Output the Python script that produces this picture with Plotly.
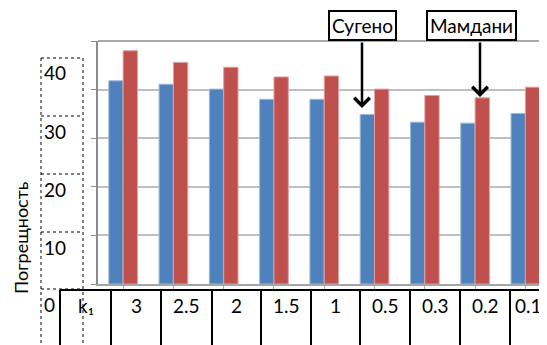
"""Погрешность: Сугено vs Мамдани по k1."""
import plotly.graph_objects as go

# data
k1_labels = ["3", "2.5", "2", "1.5", "1", "0.5", "0.3", "0.2", "0.1"]
sugeno = [41.8, 41.1, 40.1, 38.0, 38.0, 34.9, 33.3, 33.1, 35.1]
mamdani = [48.0, 45.6, 44.6, 42.6, 42.8, 40.1, 38.8, 38.3, 40.5]
y_table_labels = ["40", "30", "20", "10", "0"]

BLUE = "#4F81BD"
RED = "#C0504D"
FONT = "Lato, 'Open Sans', sans-serif"

# page body has an 8px margin, so the figure is drawn 8px smaller and shifted
OFF = 8
W, H = 547, 345
L, T, B = 98, 41, 61
PW, PH = W - L, H - T - B


def px(x):
    return (x - L) / PW


def py(y):
    return (H - B - y) / PH


xs = list(range(len(k1_labels)))

fig = go.Figure()
fig.add_trace(go.Bar(x=xs, y=sugeno, name="Сугено", marker_color=BLUE,
                     marker_line=dict(color="#9db8db", width=1)))
fig.add_trace(go.Bar(x=xs, y=mamdani, name="Мамдани", marker_color=RED,
                     marker_line=dict(color="#e0a0a0", width=1)))

shapes = []
# top border of the plot area (gridline at 50)
shapes.append(dict(type="line", xref="paper", yref="paper", x0=0, x1=1, y0=1, y1=1,
                   line=dict(color="#8c8c8c", width=1.5)))
# dotted column holding the y values
for x in (41, 83):
    shapes.append(dict(type="line", xref="paper", yref="paper", x0=px(x), x1=px(x),
                       y0=py(58), y1=py(H + 5), line=dict(color="black", width=1, dash="dot")))
row_tops = [58, 116, 174, 232, 289]
for y in row_tops:
    shapes.append(dict(type="line", xref="paper", yref="paper", x0=px(41), x1=px(83),
                       y0=py(y), y1=py(y), line=dict(color="black", width=1, dash="dot")))

# solid table under the axis
shapes.append(dict(type="line", xref="paper", yref="paper", x0=px(60), x1=px(W + 5),
                   y0=py(290), y1=py(290), line=dict(color="black", width=2)))
col_lines = [60, 111, 161, 212, 261, 311, 360, 410, 460, 510]
for x in col_lines:
    shapes.append(dict(type="line", xref="paper", yref="paper", x0=px(x), x1=px(x),
                       y0=py(290), y1=py(H + 5), line=dict(color="black", width=2)))

annotations = []
for lab, y in zip(y_table_labels, row_tops):
    annotations.append(dict(text=lab, xref="paper", yref="paper", x=px(42), y=py(y + 15),
                            xanchor="left", yanchor="middle", showarrow=False,
                            font=dict(size=19, color="black", family=FONT)))

cell_edges = col_lines + [W]
cells = ["k₁"] + k1_labels
for i, lab in enumerate(cells):
    cx = (cell_edges[i] + cell_edges[i + 1]) / 2
    annotations.append(dict(text=lab, xref="paper", yref="paper", x=px(cx), y=py(305),
                            xanchor="center", yanchor="middle", showarrow=False,
                            font=dict(size=19, color="black", family=FONT)))

annotations.append(dict(text="Погрещность", xref="paper", yref="paper", x=px(21), y=py(238),
                        textangle=-90, showarrow=False, xanchor="center", yanchor="middle",
                        font=dict(size=18, color="black", family=FONT)))

# callout boxes
for text, cx in (("Сугено", 362.5), ("Мамдани", 471)):
    annotations.append(dict(text=text, xref="paper", yref="paper", x=px(cx), y=py(26),
                            showarrow=False, xanchor="center", yanchor="middle",
                            bordercolor="black", borderwidth=2, borderpad=2, bgcolor="white",
                            font=dict(size=19, color="black", family=FONT)))
# arrows
for hx, hy in ((362, 108), (480, 97)):
    annotations.append(dict(text="", xref="paper", yref="paper", x=px(hx), y=py(hy),
                            ax=0, ay=-(hy - 41), showarrow=True, arrowhead=4,
                            arrowsize=1.2, arrowwidth=2.5, arrowcolor="black"))

fig.update_layout(
    width=W - OFF, height=H - OFF,
    margin=dict(l=L - OFF, r=0, t=T - OFF, b=B),
    paper_bgcolor="white", plot_bgcolor="white",
    barmode="group", bargap=0.43, bargroupgap=0,
    showlegend=False,
    shapes=shapes, annotations=annotations,
)
fig.update_xaxes(range=[-0.5, len(k1_labels) - 0.57], showticklabels=False,
                 showgrid=False, showline=True, linecolor="#a6a6a6", linewidth=1.5,
                 ticks="outside", ticklen=5, tickcolor="#a6a6a6", tickson="boundaries",
                 tickvals=xs)
fig.update_yaxes(range=[0, 50], dtick=10, showticklabels=False,
                 showgrid=True, gridcolor="#bfbfbf", gridwidth=1.5,
                 showline=True, linecolor="#8c8c8c", linewidth=1.5,
                 ticks="outside", ticklen=5, tickcolor="#8c8c8c", zeroline=False)

fig.write_html("out.html")
